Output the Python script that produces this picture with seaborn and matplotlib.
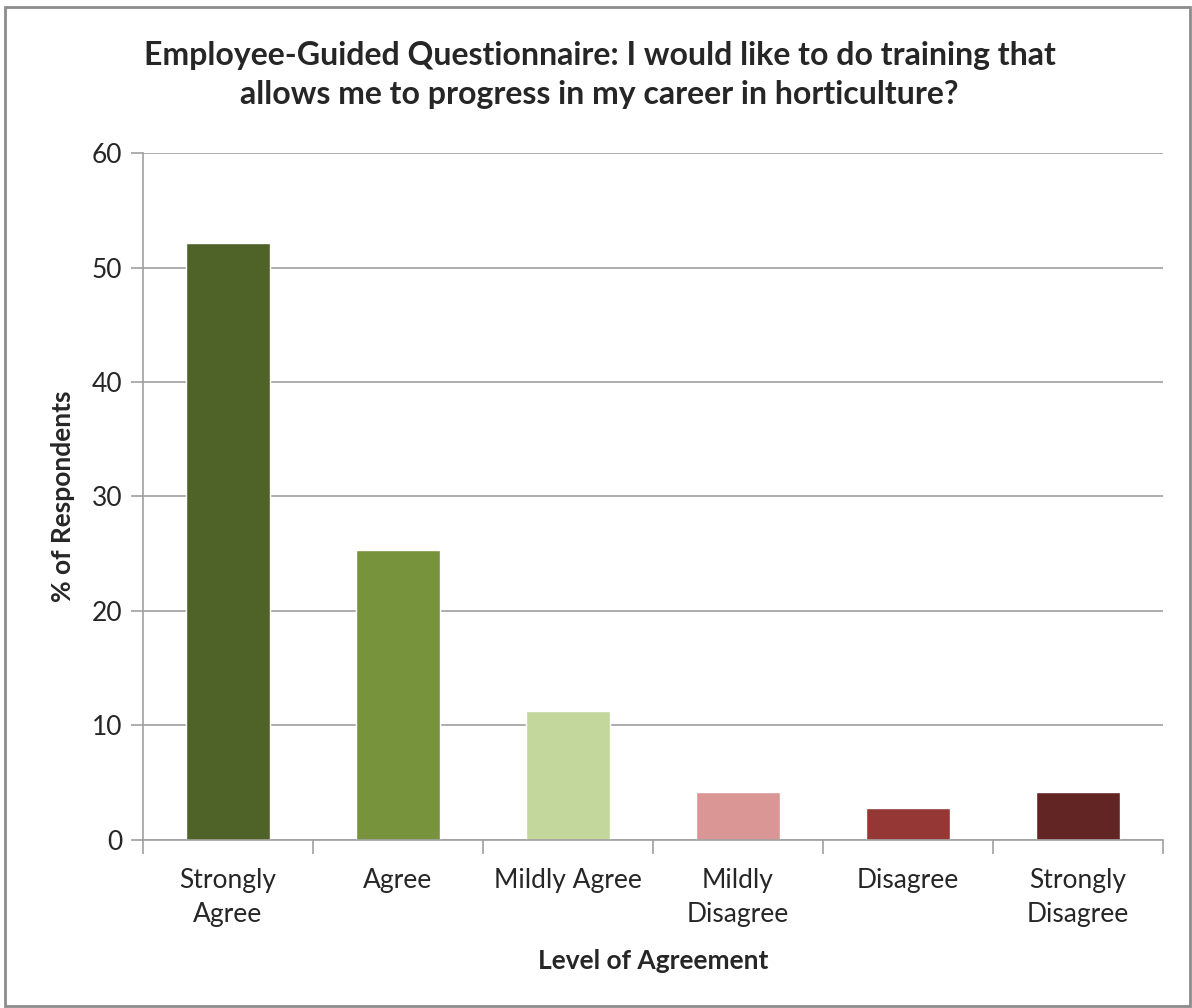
import matplotlib.pyplot as plt
import seaborn as sns
import numpy as np
from matplotlib.patches import Rectangle

categories = ["Strongly\nAgree", "Agree", "Mildly Agree", "Mildly\nDisagree", "Disagree", "Strongly\nDisagree"]
percent = [52.1, 25.3, 11.3, 4.2, 2.8, 4.2]
bar_colors = ["#4F6228", "#77933C", "#C3D69B", "#D99694", "#953735", "#632523"]
y_ticks = [0, 10, 20, 30, 40, 50, 60]

sns.set_style("white")
plt.rcParams['font.family'] = ['Lato', 'DejaVu Sans']

fig = plt.figure(figsize=(11.92, 10.08), dpi=100)
ax = fig.add_axes([0.12, 0.1667, 0.8557, 0.6815])

sns.barplot(x=categories, y=percent, hue=categories, palette=bar_colors,
            width=0.49, legend=False, ax=ax, saturation=1)

ax.set_ylim(0, 60)
ax.set_xlim(-0.5, len(categories) - 0.5)
ax.set_yticks(y_ticks)
ax.yaxis.grid(True, color="#A0A0A0", linewidth=1.2)
ax.set_axisbelow(True)
for s in ["top", "right"]:
    ax.spines[s].set_visible(False)
for s in ["left", "bottom"]:
    ax.spines[s].set_color("#A0A0A0")
    ax.spines[s].set_linewidth(1.2)

ax.tick_params(axis="y", length=9, width=1.2, color="#A0A0A0", labelsize=19, pad=6, direction="out", left=True)
ax.tick_params(axis="x", length=0, labelsize=19, pad=20)
for lbl in ax.get_xticklabels():
    lbl.set_linespacing(1.45)
ax.set_xticks(np.arange(-0.5, len(categories), 1), minor=True)
ax.tick_params(axis="x", which="minor", length=10, width=1.2, color="#A0A0A0", bottom=True, direction="out")

ax.set_xlabel("Level of Agreement", fontsize=19, fontweight="bold", labelpad=16)
ax.set_ylabel("% of Respondents", fontsize=19, fontweight="bold", labelpad=12)

fig.text(0.503, 0.9255, "Employee-Guided Questionnaire: I would like to do training that\nallows me to progress in my career in horticulture?",
         ha="center", va="center", fontsize=23, fontweight="bold", linespacing=1.4)

fig.patches.append(Rectangle((0.004, 0.002), 0.994, 0.991, transform=fig.transFigure,
                             fill=False, edgecolor="#8C8C8C", linewidth=2))

fig.savefig("out.png", dpi=100)
